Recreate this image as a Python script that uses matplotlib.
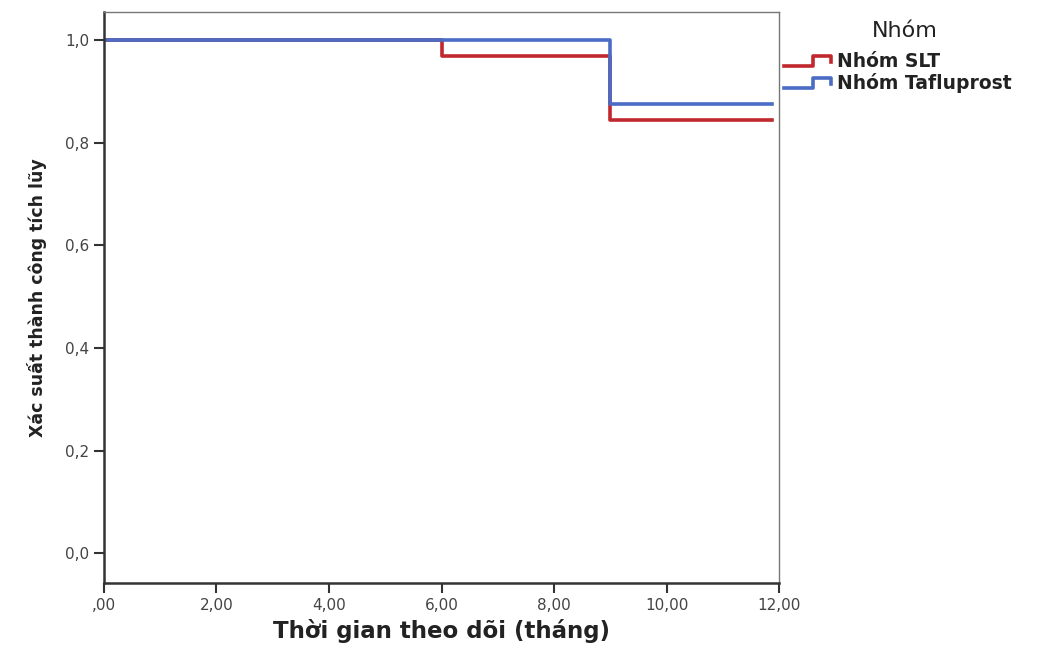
import matplotlib.pyplot as plt
from matplotlib.legend_handler import HandlerBase
from matplotlib.lines import Line2D

# Kaplan-Meier step data (time in months, cumulative success)
slt_t = [0, 6, 9, 11.88]
slt_s = [1.0, 0.969, 0.844, 0.844]
taf_t = [0, 9, 11.88]
taf_s = [1.0, 0.875, 0.875]

groups = ['Nhóm SLT', 'Nhóm Tafluprost']
colors = ['#c0282d', '#4a6cc4']

xticks = [0, 2, 4, 6, 8, 10, 12]
xticklabels = [',00', '2,00', '4,00', '6,00', '8,00', '10,00', '12,00']
yticks = [0.0, 0.2, 0.4, 0.6, 0.8, 1.0]
yticklabels = ['0,0', '0,2', '0,4', '0,6', '0,8', '1,0']


class StepHandler(HandlerBase):
    def create_artists(self, legend, orig_handle, xdescent, ydescent,
                       width, height, fontsize, trans):
        lo = height * 0.1 - ydescent
        hi = height * 0.8 - ydescent
        xs = [-xdescent, -xdescent + width * 0.62, -xdescent + width * 0.62,
              -xdescent + width, -xdescent + width]
        ys = [lo, lo, hi, hi, lo + (hi - lo) * 0.4]
        ln = Line2D(xs, ys, color=orig_handle.get_color(),
                    lw=orig_handle.get_linewidth(), transform=trans)
        return [ln]


fig = plt.figure(figsize=(10.44, 6.51), dpi=100)
ax = fig.add_axes([0.0996, 0.1045, 0.6466, 0.8771])

l1, = ax.step(slt_t, slt_s, where='post', color=colors[0], lw=2.6)
l2, = ax.step(taf_t, taf_s, where='post', color=colors[1], lw=2.6)

ax.set_xlim(0, 12)
ax.set_ylim(-0.058, 1.055)
ax.set_xticks(xticks)
ax.set_xticklabels(xticklabels)
ax.set_yticks(yticks)
ax.set_yticklabels(yticklabels)
ax.tick_params(direction='out', length=7, width=1.5, colors='#333333',
               labelsize=11, labelcolor='#444444')

for side in ['left', 'bottom']:
    ax.spines[side].set_linewidth(1.8)
    ax.spines[side].set_color('#333333')
for side in ['top', 'right']:
    ax.spines[side].set_linewidth(1.0)
    ax.spines[side].set_color('#777777')

ax.set_xlabel('Thời gian theo dõi (tháng)', fontsize=16.5, fontweight='bold',
              color='#222222', labelpad=5)
ax.set_ylabel('Xác suất thành công tích lũy', fontsize=12.5, fontweight='bold',
              color='#222222', labelpad=13)

fig.text(0.867, 0.953, 'Nhóm', fontsize=16, color='#222222',
         ha='center', va='center')
leg = ax.legend([l1, l2], groups, handler_map={Line2D: StepHandler()},
                loc='upper left', bbox_to_anchor=(1.008, 0.93), frameon=False,
                handlelength=2.5, handletextpad=0.3, labelspacing=0.1,
                borderaxespad=0, borderpad=0,
                prop={'weight': 'bold', 'size': 13.5})
for t in leg.get_texts():
    t.set_color('#222222')

fig.savefig('out.png', dpi=100)
